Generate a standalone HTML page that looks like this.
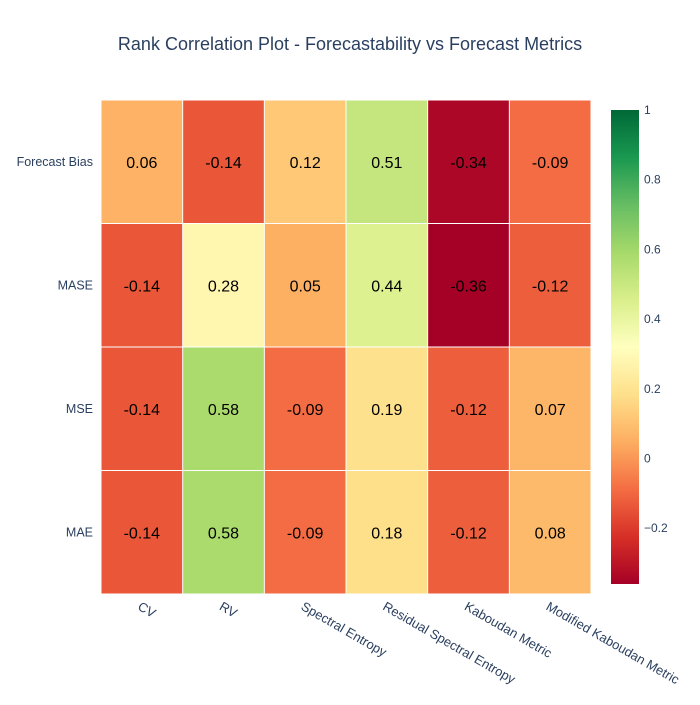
<!DOCTYPE html>
<html><head><meta charset="utf-8"><style>body{margin:0;background:#fff}svg{font-family:"Liberation Sans",Arial,sans-serif}</style></head>
<body>
<svg id="c" width="700" height="700">
<text x="350" y="50" text-anchor="middle" font-size="18" fill="#2a3f5f">Rank Correlation Plot - Forecastability vs Forecast Metrics</text>
</svg>
<script>
const xCats=["CV","RV","Spectral Entropy","Residual Spectral Entropy","Kaboudan Metric","Modified Kaboudan Metric"];
const yCats=["Forecast Bias","MASE","MSE","MAE"];
const z=[[0.06,-0.14,0.12,0.51,-0.34,-0.09],[-0.14,0.28,0.05,0.44,-0.36,-0.12],[-0.14,0.58,-0.09,0.19,-0.12,0.07],[-0.14,0.58,-0.09,0.18,-0.12,0.08]];
const cbTicks=[-0.2,0,0.2,0.4,0.6,0.8,1];
const zmin=-0.36,zmax=1;
const scale=[[0,[165,0,38]],[0.1,[215,48,39]],[0.2,[244,109,67]],[0.3,[253,174,97]],[0.4,[254,224,139]],[0.5,[255,255,191]],[0.6,[217,239,139]],[0.7,[166,217,106]],[0.8,[102,189,99]],[0.9,[26,152,80]],[1,[0,104,55]]];
function col(v){let t=Math.max(0,Math.min(1,(v-zmin)/(zmax-zmin)));for(let i=1;i<scale.length;i++){if(t<=scale[i][0]){const a=scale[i-1],b=scale[i],f=(t-a[0])/(b[0]-a[0]);const c=a[1].map((x,k)=>Math.round(x+(b[1][k]-x)*f));return `rgb(${c})`;}}return 'rgb(0,104,55)';}
const L=101,R=591,T=100,B=594;
const cw=(R-L)/xCats.length,ch=(B-T)/yCats.length;
const xs=i=>L+i*cw, ys=j=>T+j*ch;
const svg=document.getElementById('c');const NS='http://www.w3.org/2000/svg';
function mk(t,a,p){const e=document.createElementNS(NS,t);for(const k in a)e.setAttribute(k,a[k]);(p||svg).appendChild(e);return e;}
z.forEach((row,j)=>row.forEach((v,i)=>{
const r=mk('rect',{x:xs(i)+0.5,y:ys(j)+0.5,width:cw-1,height:ch-1,fill:col(v)});


const t=mk('text',{x:xs(i)+cw/2,y:ys(j)+ch/2+6,'text-anchor':'middle','font-size':16,fill:'#000'});


t.textContent=v.toFixed(2);
}));
yCats.forEach((c,j)=>{const t=mk('text',{x:93,y:ys(j)+ch/2+4,'text-anchor':'end','font-size':12.5,fill:'#2a3f5f'});


t.textContent=c;});
xCats.forEach((c,i)=>{const x=xs(i)+cw/2-5,y=609;const t=mk('text',{x:x,y:y,'font-size':13,fill:'#2a3f5f',transform:`rotate(30 ${x} ${y})`});


t.textContent=c;});
const cbT=110,cbB=584,cbX=611,cbW=28;
const cy=v=>cbB-(v-zmin)/(zmax-zmin)*(cbB-cbT);
const defs=mk('defs',{});const g=mk('linearGradient',{id:'g',x1:0,y1:1,x2:0,y2:0},defs);
scale.forEach(s=>mk('stop',{offset:s[0],'stop-color':`rgb(${s[1]})`},g));
const cb=mk('rect',{x:cbX,y:cbT,width:cbW,height:cbB-cbT,fill:'url(#g)'});


cbTicks.forEach(v=>{const t=mk('text',{x:cbX+cbW+5,y:cy(v)+4,'font-size':12,fill:'#2a3f5f'});


t.textContent=v===0?'0':(v<0?'\u2212'+Math.abs(v):String(v));});
</script>
</body></html>
